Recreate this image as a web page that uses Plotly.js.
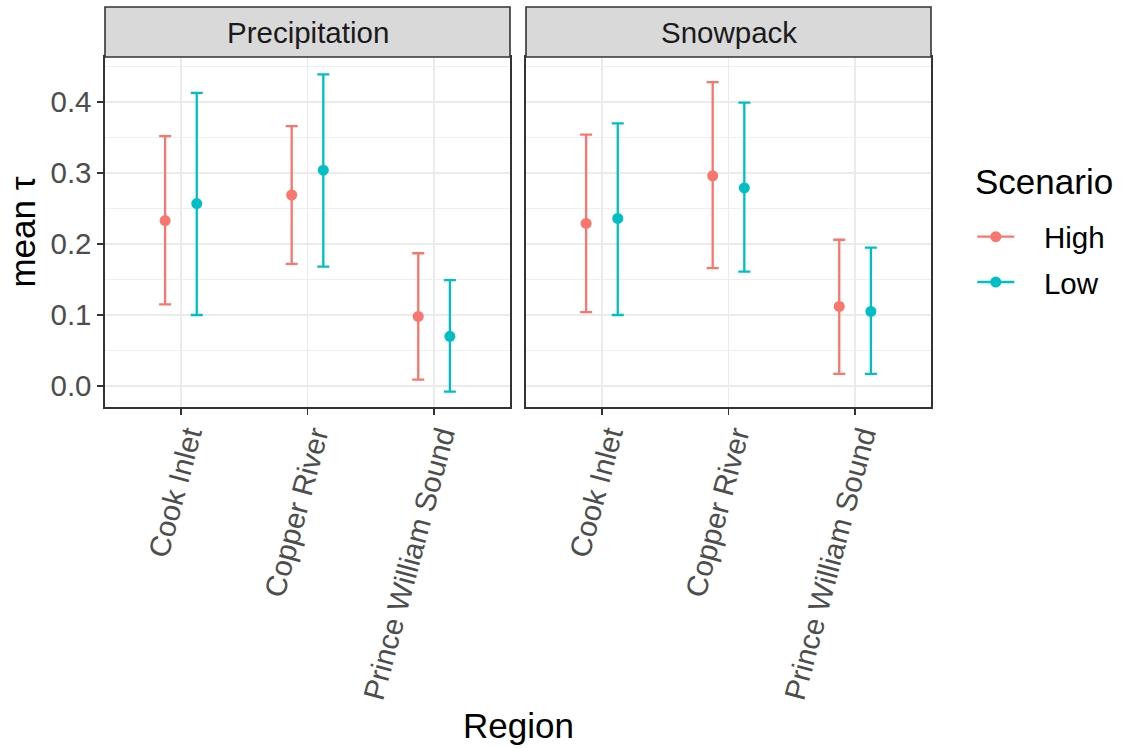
<!DOCTYPE html>
<html>
<head>
<meta charset="utf-8">
<script src="https://cdn.plot.ly/plotly-3.0.1.min.js"></script>
<style>
  html, body { margin: 0; padding: 0; background: #ffffff; }
  #chart { width: 1128px; height: 748px; }
</style>
</head>
<body>
<div id="chart"></div>
<script>
// Regions on the x axis and the two emission scenarios
const regions = ["Cook Inlet", "Copper River", "Prince William Sound"];
const scenarios = ["High", "Low"];
const facets = ["Precipitation", "Snowpack"];

// Precipitation panel: mean tau with lower / upper interval bounds
const precipHighMean  = [0.233, 0.269, 0.098];
const precipHighLower = [0.115, 0.172, 0.009];
const precipHighUpper = [0.352, 0.366, 0.187];
const precipLowMean   = [0.257, 0.304, 0.070];
const precipLowLower  = [0.100, 0.168, -0.008];
const precipLowUpper  = [0.413, 0.439, 0.149];

// Snowpack panel
const snowHighMean  = [0.229, 0.296, 0.112];
const snowHighLower = [0.104, 0.166, 0.017];
const snowHighUpper = [0.354, 0.428, 0.206];
const snowLowMean   = [0.236, 0.279, 0.105];
const snowLowLower  = [0.100, 0.161, 0.017];
const snowLowUpper  = [0.370, 0.399, 0.195];

const colors = { High: "#F8766D", Low: "#00BFC4" };
const dodge = { High: -0.125, Low: 0.125 };

function seriesTrace(scenario, mean, lower, upper, xa, ya) {
  return {
    type: "scatter",
    mode: "markers",
    x: regions.map((r, i) => i + dodge[scenario]),
    y: mean,
    xaxis: xa,
    yaxis: ya,
    showlegend: false,
    hoverinfo: "skip",
    marker: { color: colors[scenario], size: 11 },
    error_y: {
      type: "data",
      symmetric: false,
      array: upper.map((u, i) => u - mean[i]),
      arrayminus: mean.map((m, i) => m - lower[i]),
      color: colors[scenario],
      thickness: 2.3,
      width: 6
    }
  };
}

// Legend-only entries (line + dot key)
function legendTrace(scenario) {
  return {
    type: "scatter",
    mode: "lines+markers",
    x: [null],
    y: [null],
    name: "\u00a0\u00a0\u00a0" + scenario,
    legendgroup: scenario,
    showlegend: true,
    line: { color: colors[scenario], width: 2.3 },
    marker: { color: colors[scenario], size: 11 }
  };
}

const traces = [
  seriesTrace("High", precipHighMean, precipHighLower, precipHighUpper, "x", "y"),
  seriesTrace("Low", precipLowMean, precipLowLower, precipLowUpper, "x", "y"),
  seriesTrace("High", snowHighMean, snowHighLower, snowHighUpper, "x2", "y2"),
  seriesTrace("Low", snowLowMean, snowLowLower, snowLowUpper, "x2", "y2"),
  legendTrace(scenarios[0]),
  legendTrace(scenarios[1])
];

const FONT = "Liberation Sans, Arial, sans-serif";
const TICK = 29.5;
const TITLE = 35;
const plotW = 826, plotH = 350, stripH = 50;

function xAxis(domain, anchor) {
  return {
    domain: domain,
    anchor: anchor,
    range: [-0.6, 2.6],
    tickmode: "array",
    tickvals: regions.map((r, i) => i),
    ticktext: regions,
    tickangle: -75,
    ticklabelshift: 7,
    ticklabelstandoff: -8,
    ticks: "outside",
    ticklen: 6,
    tickwidth: 1.5,
    tickcolor: "#333333",
    tickfont: { family: FONT, size: TICK, color: "#4D4D4D" },
    showgrid: true,
    gridcolor: "#EBEBEB",
    gridwidth: 1.6,
    zeroline: false,
    showline: true,
    mirror: true,
    linecolor: "#333333",
    linewidth: 1.6,
    fixedrange: true
  };
}

function yAxis(anchor, labels) {
  return {
    anchor: anchor,
    range: [-0.0296, 0.4634],
    tickmode: "linear",
    tick0: 0,
    dtick: 0.1,
    tickformat: ".1f",
    ticks: labels ? "outside" : "",
    ticklen: 6,
    tickwidth: 1.5,
    tickcolor: "#333333",
    showticklabels: labels,
    tickfont: { family: FONT, size: TICK, color: "#4D4D4D" },
    showgrid: true,
    gridcolor: "#EBEBEB",
    gridwidth: 1.6,
    minor: { dtick: 0.05, tick0: 0, showgrid: true, gridcolor: "#EBEBEB", gridwidth: 0.8, ticks: "" },
    zeroline: false,
    showline: true,
    mirror: true,
    linecolor: "#333333",
    linewidth: 1.6,
    fixedrange: true
  };
}

const gap = 16 / plotW;
const leftDomain = [0, (1 - gap) / 2];
const rightDomain = [(1 + gap) / 2, 1];

const yl = yAxis("x", true);
yl.title = { text: "mean \u03c4", font: { family: FONT, size: TITLE, color: "#000000" }, standoff: 4 };
const yr = yAxis("x2", false);
yr.matches = "y";

// Facet strips
const shapes = [];
const annotations = [];
["x", "x2"].forEach((xa, k) => {
  shapes.push({
    type: "rect",
    xref: xa + " domain", x0: 0, x1: 1,
    yref: "paper", y0: 1, y1: 1 + stripH / plotH,
    fillcolor: "#D9D9D9",
    line: { color: "#333333", width: 1.6 },
    layer: "above"
  });
  annotations.push({
    xref: xa + " domain", x: 0.5,
    yref: "paper", y: 1 + stripH / 2 / plotH,
    xanchor: "center", yanchor: "middle",
    text: facets[k],
    showarrow: false,
    font: { family: FONT, size: TICK, color: "#1A1A1A" }
  });
});
// Axis title shared by both panels
annotations.push({
  xref: "paper", x: 0.5,
  yref: "paper", y: -318 / plotH,
  xanchor: "center", yanchor: "middle",
  text: "Region",
  showarrow: false,
  font: { family: FONT, size: TITLE, color: "#000000" }
});
// Legend heading
annotations.push({
  xref: "paper", x: (973 - 105) / plotW,
  yref: "paper", y: (407 - 181) / plotH,
  xanchor: "left", yanchor: "middle",
  text: "Scenario",
  showarrow: false,
  font: { family: FONT, size: TITLE, color: "#000000" }
});

const layout = {
  width: 1128,
  height: 748,
  margin: { l: 105, r: 197, t: 57, b: 341, pad: 0 },
  paper_bgcolor: "#ffffff",
  plot_bgcolor: "#ffffff",
  font: { family: FONT },
  showlegend: true,
  legend: {
    x: 1.05, xanchor: "left",
    y: (407 - 211) / plotH, yanchor: "top",
    font: { family: FONT, size: TICK, color: "#000000" },
    itemwidth: 37,
    tracegroupgap: 4,
    bgcolor: "rgba(0,0,0,0)",
    borderwidth: 0
  },
  xaxis: xAxis(leftDomain, "y"),
  xaxis2: xAxis(rightDomain, "y2"),
  yaxis: yl,
  yaxis2: yr,
  shapes: shapes,
  annotations: annotations
};

Plotly.newPlot("chart", traces, layout, { displayModeBar: false, staticPlot: true });
</script>
</body>
</html>
